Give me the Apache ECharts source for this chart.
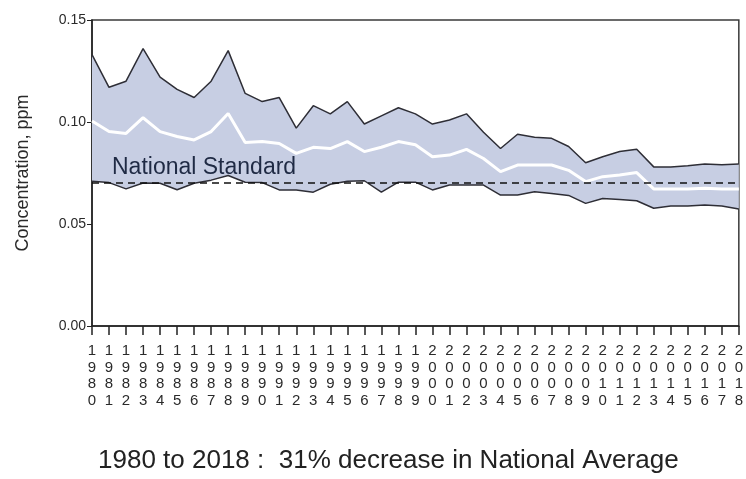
<!DOCTYPE html>
<html>
<head>
<meta charset="utf-8">
<title>Ozone Air Quality, 1980 - 2018</title>
<script src="https://cdn.jsdelivr.net/npm/echarts@6/dist/echarts.min.js"></script>
<style>
  html, body { margin: 0; padding: 0; background: #fff; }
  #chart { width: 746px; height: 479px; }
</style>
</head>
<body>
<div id="chart"></div>
<script>
// Years on the category axis
const years = [];
for (let y = 1980; y <= 2018; y++) years.push(String(y));

// 90th percentile of site concentrations (ppm)
const upper = [0.133, 0.117, 0.120, 0.136, 0.122, 0.116, 0.112, 0.120, 0.135, 0.114,
               0.110, 0.112, 0.097, 0.108, 0.104, 0.110, 0.099, 0.103, 0.107, 0.104,
               0.099, 0.101, 0.104, 0.095, 0.087, 0.094, 0.0925, 0.092, 0.088, 0.080,
               0.083, 0.0855, 0.0866, 0.078, 0.078, 0.0786, 0.0794, 0.079, 0.0794];

// National average (ppm)
const average = [0.1005, 0.0953, 0.0944, 0.1021, 0.0953, 0.0929, 0.0912, 0.0953, 0.1042, 0.0900,
                 0.0904, 0.0895, 0.0846, 0.0876, 0.0870, 0.0904, 0.0855, 0.0876, 0.0904, 0.0888,
                 0.0830, 0.0838, 0.0866, 0.0821, 0.0757, 0.0789, 0.0789, 0.0789, 0.0763, 0.0708,
                 0.0732, 0.0740, 0.0752, 0.0672, 0.0672, 0.0672, 0.0675, 0.0672, 0.0672];

// 10th percentile of site concentrations (ppm)
const lower = [0.0710, 0.0703, 0.0672, 0.0701, 0.0700, 0.0668, 0.0700, 0.0715, 0.0738, 0.0705,
               0.0703, 0.0667, 0.0667, 0.0656, 0.0695, 0.0710, 0.0712, 0.0656, 0.0705, 0.0705,
               0.0667, 0.0691, 0.0691, 0.0691, 0.0642, 0.0642, 0.0658, 0.0650, 0.0640, 0.0601,
               0.0625, 0.0620, 0.0614, 0.0577, 0.0588, 0.0588, 0.0593, 0.0588, 0.0574];

// National Ambient Air Quality Standard (ppm)
const standard = 0.070;

// Y axis ticks
const yTicks = { min: 0, max: 0.15, interval: 0.05 };

// Thickness of the shaded band, stacked on top of the lower bound
const spread = upper.map((v, i) => +(v - lower[i]).toFixed(5));

const chart = echarts.init(document.getElementById('chart'), null, { renderer: 'canvas' });

const font = 'Liberation Sans, Arial, sans-serif';

chart.setOption({
  animation: false,
  backgroundColor: '#ffffff',
  grid: {
    left: 92, right: 3, top: 20, bottom: 153,
    show: true, borderColor: '#3a3a3a', borderWidth: 1.5, backgroundColor: 'transparent'
  },
  xAxis: {
    type: 'category',
    data: years,
    boundaryGap: false,
    axisLine: { lineStyle: { color: '#222', width: 1.5 } },
    axisTick: { show: true, alignWithLabel: true, length: 9, lineStyle: { color: '#222', width: 1.5 } },
    axisLabel: {
      interval: 0,
      margin: 17,
      fontFamily: font,
      fontSize: 15,
      lineHeight: 16.4,
      color: '#2a2a2a',
      formatter: v => v.split('').join('\n')
    },
    splitLine: { show: false }
  },
  yAxis: {
    type: 'value',
    min: yTicks.min, max: yTicks.max, interval: yTicks.interval,
    name: 'Concentration, ppm',
    nameLocation: 'middle',
    nameGap: 60,
    nameTextStyle: { fontFamily: font, fontSize: 18, color: '#2a2a2a' },
    axisLine: { show: true, lineStyle: { color: '#222', width: 1.5 } },
    axisTick: { show: true, length: 5, lineStyle: { color: '#222' } },
    axisLabel: {
      fontFamily: font, fontSize: 14, color: '#2a2a2a', margin: 6,
      formatter: v => v.toFixed(2)
    },
    splitLine: { show: false }
  },
  series: [
    {
      name: 'base',
      type: 'line',
      data: lower,
      stack: 'band',
      symbol: 'none',
      lineStyle: { opacity: 0 },
      silent: true,
      z: 1
    },
    {
      name: 'band',
      type: 'line',
      data: spread,
      stack: 'band',
      symbol: 'none',
      lineStyle: { opacity: 0 },
      areaStyle: { color: '#c7cee3', opacity: 1 },
      silent: true,
      z: 1
    },
    {
      name: '90th Percentile',
      type: 'line',
      data: upper,
      symbol: 'none',
      lineStyle: { color: '#2e2e36', width: 1.5 },
      z: 3
    },
    {
      name: '10th Percentile',
      type: 'line',
      data: lower,
      symbol: 'none',
      lineStyle: { color: '#2e2e36', width: 1.5 },
      z: 3,
      markLine: {
        silent: true,
        symbol: 'none',
        label: { show: false },
        lineStyle: { color: '#111', type: [7, 5], width: 1.6 },
        data: [{ yAxis: standard }]
      }
    },
    {
      name: 'National Average',
      type: 'line',
      data: average,
      symbol: 'none',
      lineStyle: { color: '#ffffff', width: 3 },
      z: 4
    }
  ],
  graphic: [
    {
      type: 'text',
      left: 112,
      top: 156,
      z: 10,
      style: {
        text: 'National Standard',
        font: '23px ' + font,
        fill: '#1f2a44'
      }
    },
    {
      type: 'text',
      left: 98,
      top: 448,
      z: 10,
      style: {
        text: '1980 to 2018 :  31% decrease in National Average',
        font: '26px ' + font,
        fill: '#222'
      }
    }
  ]
});
</script>
</body>
</html>
